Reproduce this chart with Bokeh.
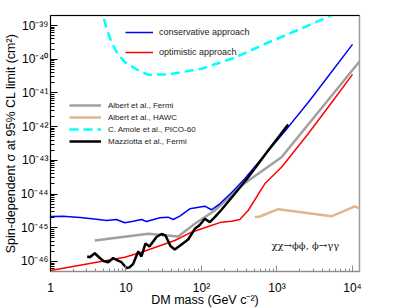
from bokeh.plotting import figure
from bokeh.models import (Range1d, FixedTicker, CustomJSTickFormatter, Legend, LegendItem,
                          Label, LogAxis)
from bokeh.embed import file_html
from bokeh.resources import INLINE

# ---------------- data ----------------
mass_cons = [1, 1.47, 2.46, 4.06, 5.52, 7.48, 9.64, 12.45, 16.03, 18.71, 28.05, 36.2, 42.17,
             51.64, 69.98, 110.7, 135.5, 174.6, 249.5, 374.1, 623.7, 1406, 2716, 10000]
sigma_cons = [2.16e-45, 2.21e-45, 2.02e-45, 1.80e-45, 1.65e-45, 1.76e-45, 1.41e-45, 1.57e-45,
              1.76e-45, 1.54e-45, 1.98e-45, 2.07e-45, 1.76e-45, 2.21e-45, 3.66e-45, 4.38e-45,
              3.42e-45, 5.15e-45, 1.09e-44, 2.84e-44, 1.11e-43, 9.66e-43, 5.98e-42, 2.75e-40]

mass_opt = [1, 9.64, 16.0, 44.3, 73.8, 122.7, 184.1, 249.5, 321.4, 415.0, 688.7, 1148, 2588,
            5546, 10000]
sigma_opt = [5.41e-47, 1.34e-46, 1.89e-46, 4.20e-46, 7.40e-46, 1.09e-45, 1.47e-45, 1.57e-45,
             1.76e-45, 3.26e-45, 2.02e-44, 6.28e-44, 6.15e-43, 5.98e-42, 3.55e-41]

mass_fermi = [3.86, 19.7, 49.1, 81.5, 150, 339, 1148, 12760]
sigma_fermi = [4.20e-46, 6.64e-46, 5.52e-46, 1.32e-45, 3.26e-45, 1.80e-44, 1.24e-43, 9.3e-41]

mass_hawc = [508, 592, 1038, 5272, 10720, 12760]
sigma_hawc = [2.07e-45, 2.16e-45, 3.56e-45, 2.19e-45, 4.29e-45, 3.66e-45]

mass_pico = [4.59, 5.52, 6.43, 7.71, 9.64, 13.77, 19.68, 36.22, 100, 276.1, 623.7, 2113,
             5272, 8337]
sigma_pico = [3.98e-39, 8.20e-40, 3.16e-40, 1.49e-40, 8.20e-41, 4.98e-41, 3.47e-41, 3.54e-41,
              5.22e-41, 1.11e-40, 2.56e-40, 8.20e-40, 2.0e-39, 3.24e-39]

mass_mazz = [3.06, 3.32, 3.86, 4.50, 5.04, 5.81, 6.76, 7.48, 8.71, 10.16, 11.22, 12.45, 14.52,
             16.03, 18.11, 20.46, 25.35, 29.51, 33.34, 38.82, 44.26, 54.33, 66.68, 81.47,
             94.84, 110.7, 128.8, 150.0, 184.1, 276.1, 415.9, 763.8, 1406]
sigma_mazz = [1.41e-46, 1.34e-46, 1.76e-46, 1.27e-46, 1.04e-46, 9.53e-47, 1.27e-46, 1.11e-46,
              9.53e-47, 6.41e-47, 6.78e-47, 8.55e-47, 1.98e-46, 1.41e-46, 3.42e-46, 2.79e-46,
              5.33e-46, 6.55e-46, 5.92e-46, 2.88e-46, 2.27e-46, 3.19e-46, 4.50e-46, 9.33e-46,
              1.21e-45, 1.85e-45, 1.47e-45, 2.07e-45, 3.42e-45, 1.02e-44, 3.17e-44, 1.97e-43,
              1.16e-42]

x_tick_exps = [0, 1, 2, 3, 4]
x_tick_labels = ["1", "10", "10\u00b2", "10\u00b3", "10\u2074"]
y_tick_exps = [-46, -45, -44, -43, -42, -41, -40, -39]
y_tick_labels = ["10\u207b\u2074\u2076", "10\u207b\u2074\u2075", "10\u207b\u2074\u2074",
                 "10\u207b\u2074\u00b3", "10\u207b\u2074\u00b2", "10\u207b\u2074\u00b9",
                 "10\u207b\u2074\u2070", "10\u207b\u00b3\u2079"]

FONT = "Liberation Sans"

p = figure(x_axis_type="log", y_axis_type="log",
           x_range=Range1d(1, 12380), y_range=Range1d(5.05e-47, 1.98e-39),
           frame_width=309, frame_height=256,
           min_border_left=41, min_border_right=24, min_border_top=15, min_border_bottom=10,
           output_backend="svg", toolbar_location=None)
p.background_fill_color = "white"
p.border_fill_color = "white"
p.xgrid.visible = False
p.ygrid.visible = False
p.outline_line_color = "#9a9a9a"
p.outline_line_width = 1.5

# ticks
x_major = [10.0 ** e for e in x_tick_exps]
x_minor = [k * 10.0 ** e for e in range(0, 5) for k in range(2, 10) if k * 10.0 ** e < 12380]
y_major = [10.0 ** e for e in y_tick_exps]
y_minor = [k * 10.0 ** e for e in range(-47, -38) for k in range(2, 10)
           if 5.05e-47 < k * 10.0 ** e < 1.98e-39]

fmt_code = """
const e = Math.round(Math.log10(tick));
const i = exps.indexOf(e);
return i >= 0 ? labels[i] : '';
"""

xa = p.xaxis[0]
xa.ticker = FixedTicker(ticks=x_major, minor_ticks=x_minor)
xa.formatter = CustomJSTickFormatter(args=dict(exps=x_tick_exps, labels=x_tick_labels), code=fmt_code)
xa.axis_label = "DM mass (GeV c\u207b\u00b2)"
xa.axis_line_color = "#8c8c8c"
xa.major_tick_line_color = "#8c8c8c"
xa.minor_tick_line_color = "#8c8c8c"
xa.major_tick_in = 6
xa.major_tick_out = 0
xa.minor_tick_in = 3
xa.minor_tick_out = 0
xa.major_label_standoff = 9
xa.axis_label_standoff = -5
xa.major_label_text_font = FONT
xa.major_label_text_font_size = "12px"
xa.major_label_text_color = "black"
xa.axis_label_text_font = FONT
xa.axis_label_text_font_size = "12.5px"
xa.axis_label_text_font_style = "normal"
xa.axis_label_text_color = "black"

ya = p.yaxis[0]
ya.ticker = FixedTicker(ticks=y_major, minor_ticks=y_minor)
ya.formatter = CustomJSTickFormatter(args=dict(exps=y_tick_exps, labels=y_tick_labels), code=fmt_code)
ya.axis_label = "Spin-dependent \u03c3 at 95% CL limit (cm\u00b2)"
ya.axis_line_color = "black"
ya.major_tick_line_color = "black"
ya.minor_tick_line_color = "black"
ya.major_tick_in = 7
ya.major_tick_out = 0
ya.minor_tick_in = 4
ya.minor_tick_out = 0
ya.major_label_standoff = 2
ya.axis_label_standoff = 0
ya.major_label_text_font = FONT
ya.major_label_text_font_size = "12px"
ya.major_label_text_color = "black"
ya.axis_label_text_font = FONT
ya.axis_label_text_font_size = "12.5px"
ya.axis_label_text_font_style = "normal"
ya.axis_label_text_color = "black"

# black top border
top = LogAxis(ticker=FixedTicker(ticks=[]), axis_line_color="black",
              major_tick_line_color=None, minor_tick_line_color=None,
              major_label_text_font_size="0px")
p.add_layout(top, "above")

# ---------------- lines ----------------
r_pico = p.line(mass_pico, sigma_pico, line_color="#00ffff", line_width=2.5, line_dash="9 5")
r_fermi = p.line(mass_fermi, sigma_fermi, line_color="#a0a0a0", line_width=2.5)
r_hawc = p.line(mass_hawc, sigma_hawc, line_color="#deb887", line_width=2.5)
r_cons = p.line(mass_cons, sigma_cons, line_color="#0000ff", line_width=1.5)
r_opt = p.line(mass_opt, sigma_opt, line_color="#ff0000", line_width=1.5)
r_mazz = p.line(mass_mazz, sigma_mazz, line_color="black", line_width=2.5)

common = dict(padding=0, margin=0, border_line_color=None, background_fill_alpha=0,
              label_text_font=FONT, label_text_color="#222222")

leg1 = Legend(items=[LegendItem(label="conservative approach", renderers=[r_cons]),
                     LegendItem(label="optimistic approach", renderers=[r_opt])],
              location=(75, 213), glyph_width=28, glyph_height=12, label_height=12,
              label_standoff=6, spacing=8, label_text_font_size="9px", **common)
leg2 = Legend(items=[LegendItem(label="Albert et al., Fermi", renderers=[r_fermi]),
                     LegendItem(label="Albert et al., HAWC", renderers=[r_hawc]),
                     LegendItem(label="C. Amole et al., PICO-60", renderers=[r_pico]),
                     LegendItem(label="Mazziotta et al., Fermi", renderers=[r_mazz])],
              location=(19, 125), glyph_width=32, glyph_height=10, label_height=10,
              label_standoff=7, spacing=2, label_text_font_size="8px", **common)
p.add_layout(leg1)
p.add_layout(leg2)

ann = Label(x=221, y=26, x_units="screen", y_units="screen",
            text="\u03c7\u03c7\u2192\u03d5\u03d5,  \u03d5\u2192\u03b3\u03b3",
            text_font="DejaVu Serif", text_font_size="10px",
            text_baseline="middle", text_align="left", text_color="#222222")
p.add_layout(ann)

open("out.html", "w").write(file_html(p, INLINE))
